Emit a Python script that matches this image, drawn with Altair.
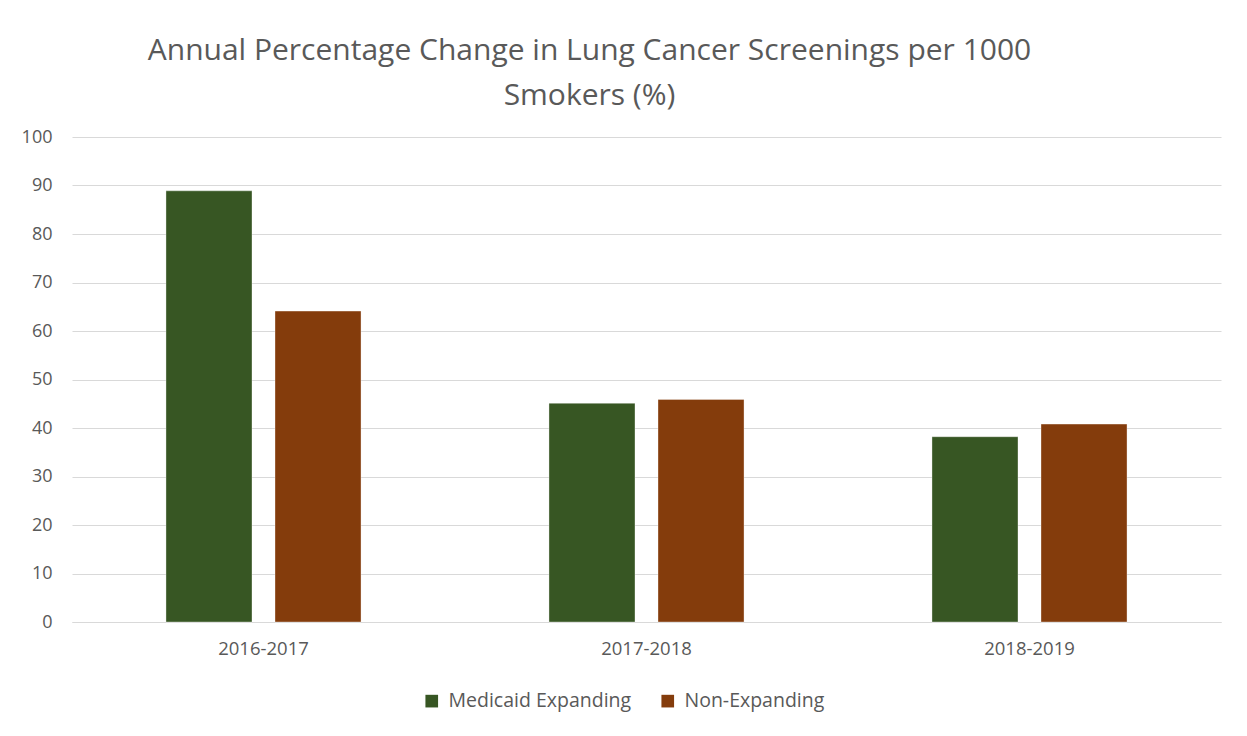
import altair as alt
import pandas as pd

periods = ["2016-2017", "2017-2018", "2018-2019"]
series = ["Medicaid Expanding", "Non-Expanding"]
medicaid_expanding = [88.9, 45.1, 38.2]
non_expanding = [64.1, 45.9, 40.8]
colors = ["#375623", "#843C0C"]
y_ticks = list(range(0, 101, 10))

rows = []
for i, p in enumerate(periods):
    rows.append({"period": p, "group": series[0], "value": medicaid_expanding[i]})
    rows.append({"period": p, "group": series[1], "value": non_expanding[i]})
df = pd.DataFrame(rows)

FONT = "Open Sans"
GRAY = "#595959"

chart = alt.Chart(df).mark_bar(stroke="#ffffff", strokeOpacity=0.35, strokeWidth=1).encode(
    x=alt.X("period:N", sort=periods, title=None,
            scale=alt.Scale(paddingInner=0, paddingOuter=0),
            axis=alt.Axis(labelAngle=0, labelFont=FONT, labelFontSize=18.5, labelColor=GRAY,
                          ticks=False, domainColor="#d9d9d9", domainWidth=1, labelPadding=17)),
    xOffset=alt.XOffset("group:N", sort=series,
                        scale=alt.Scale(paddingInner=0.211, paddingOuter=0.862)),
    y=alt.Y("value:Q", title=None,
            scale=alt.Scale(domain=[0, 100], nice=False),
            axis=alt.Axis(values=y_ticks, labelFont=FONT, labelFontSize=18, labelColor=GRAY,
                          domain=False, ticks=False, labelPadding=20,
                          gridColor="#d9d9d9", gridWidth=1)),
    color=alt.Color("group:N", sort=series,
                    scale=alt.Scale(domain=series, range=colors),
                    legend=alt.Legend(title=None, orient="none", direction="horizontal",
                                      legendX=350, legendY=554,
                                      symbolType="square", symbolSize=160,
                                      symbolStrokeWidth=0, symbolOpacity=1,
                                      labelFont=FONT, labelFontSize=19.5, labelColor=GRAY,
                                      labelLimit=400,
                                      columnPadding=26, labelOffset=7)),
).properties(
    width=1149,
    height=485,
    padding={"left": 64, "top": 129, "right": 14, "bottom": 100},
    autosize=alt.AutoSizeParams(type="none"),
    title=alt.TitleParams(
        text=["Annual Percentage Change in Lung Cancer Screenings per 1000", "Smokers (%)"],
        font=FONT, fontSize=30, fontWeight="normal", color=GRAY,
        anchor="middle", lineHeight=45, offset=17, dx=-57,
    ),
).configure_view(stroke=None)

chart.save("out.html", embed_options={"renderer": "svg", "actions": False})
